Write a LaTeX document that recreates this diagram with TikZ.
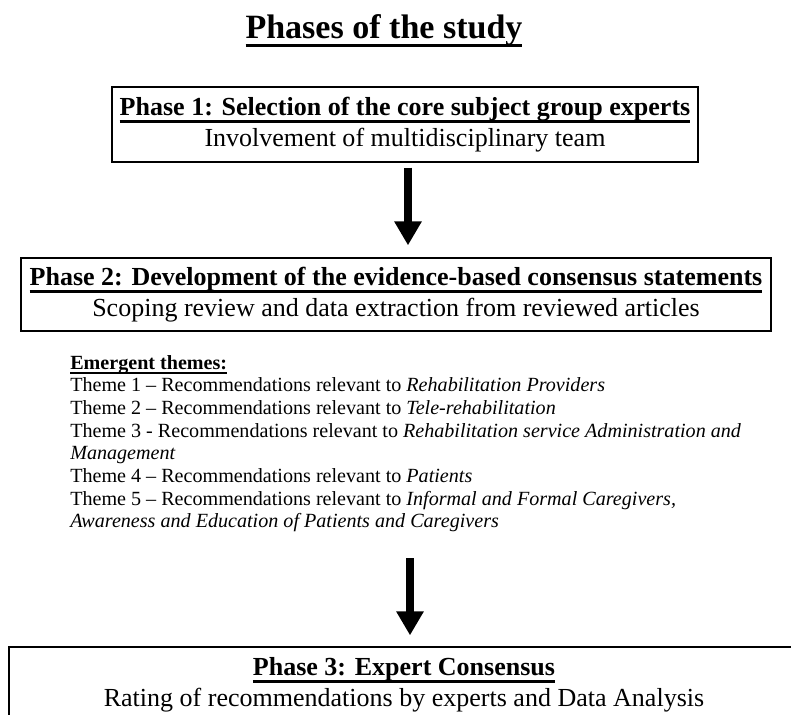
\documentclass[tikz,border=0pt]{standalone}
\usepackage{fontspec}
\setmainfont{Liberation Serif}
\usetikzlibrary{arrows.meta, calc, positioning}

\newsavebox\ulbox
% #1 depth of the rule's bottom, #2 thickness, #3 text
\newcommand{\thickul}[3]{\sbox\ulbox{#3}\rlap{\rule[-#1]{\wd\ulbox}{#2}}\usebox\ulbox}
\newcommand{\phasehead}[1]{\textbf{\thickul{5.2pt}{1.8pt}{#1}}}

\begin{document}
\begin{tikzpicture}[x=0.025cm, y=-0.025cm,
    phasebox/.style={draw, line width=0.9pt, inner sep=0pt, align=center,
      font=\fontsize{18.5}{22}\selectfont},
    bigarrow/.style={line width=5.3pt, -{Triangle[width=0.65cm, length=0.6cm]}}]
  \useasboundingbox (0,0) rectangle (791,715);
  \clip (0,0) rectangle (791,715);

  \node[anchor=base, font=\fontsize{24.2}{28}\selectfont\bfseries] (title) at (384,39)
    {\thickul{5.7pt}{2.2pt}{Phases of the study}};

  \node[phasebox, minimum width=14.65cm, minimum height=1.875cm] (p1) at (405,124.5)
    {\phasehead{Phase 1: Selection of the core subject group experts}\\
     Involvement of multidisciplinary team};

  \node[phasebox, minimum width=18.75cm, minimum height=1.825cm] (p2) at (396,294.5)
    {\phasehead{Phase 2: Development of the evidence-based consensus statements}\\
     Scoping review and data extraction from reviewed articles};

  \node[anchor=north west, inner sep=0pt, align=left,
    font=\fontsize{14.3}{16.1}\selectfont] (themes) at (70,355)
    {\textbf{\thickul{3.4pt}{1.5pt}{Emergent themes:}}\\
     Theme 1 -- Recommendations relevant to \textit{Rehabilitation Providers}\\
     Theme 2 -- Recommendations relevant to \textit{Tele-rehabilitation}\\
     Theme 3 - Recommendations relevant to \textit{Rehabilitation service Administration and}\\
     \textit{Management}\\
     Theme 4 -- Recommendations relevant to \textit{Patients}\\
     Theme 5 -- Recommendations relevant to \textit{Informal and Formal Caregivers,}\\
     \textit{Awareness and Education of Patients and Caregivers}};

  \node[phasebox, minimum width=19.75cm, minimum height=1.875cm] (p3) at (404,684.5)
    {\phasehead{Phase 3: Expert Consensus}\\
     Rating of recommendations by experts and Data Analysis};

  \draw[bigarrow] ($(p1.south)+(3,5)$) -- ($(p2.north -| p1.south)+(3,-12)$);
  \draw[bigarrow] ($(themes.south -| p3.north)+(6,26)$) -- ($(p3.north)+(6,-11)$);
\end{tikzpicture}
\end{document}
